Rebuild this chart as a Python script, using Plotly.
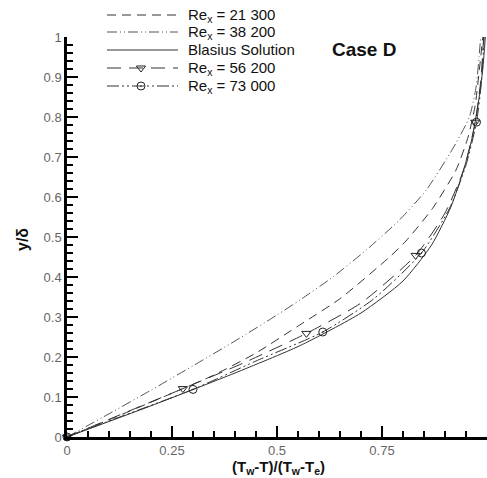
import plotly.graph_objects as go

# ---- data ----
x_21300 = [0, 0.1, 0.229, 0.35, 0.45, 0.554, 0.649, 0.768, 0.807, 0.87, 0.926, 0.955, 0.972, 0.982, 0.99]
y_21300 = [0, 0.043, 0.1, 0.155, 0.21, 0.28, 0.345, 0.45, 0.49, 0.571, 0.667, 0.75, 0.83, 0.92, 1.0]

x_38200 = [0, 0.1, 0.2, 0.3, 0.4, 0.5, 0.554, 0.633, 0.712, 0.791, 0.855, 0.918, 0.958, 0.974, 0.981, 0.985]
y_38200 = [0, 0.058, 0.117, 0.178, 0.24, 0.305, 0.342, 0.40, 0.467, 0.542, 0.617, 0.72, 0.80, 0.875, 0.95, 1.0]

x_blasius = [0, 0.2, 0.4, 0.554, 0.7, 0.8, 0.868, 0.914, 0.945, 0.965, 0.98, 0.99, 0.996]
y_blasius = [0, 0.078, 0.16, 0.228, 0.31, 0.39, 0.48, 0.575, 0.67, 0.75, 0.84, 0.92, 1.0]

x_56200 = [0, 0.1, 0.276, 0.42, 0.57, 0.7, 0.83, 0.9, 0.945, 0.972, 0.985, 0.992]
y_56200 = [0, 0.044, 0.121, 0.185, 0.259, 0.335, 0.454, 0.56, 0.67, 0.787, 0.89, 1.0]
mk_56200 = [0, 2, 4, 6, 9]

x_73000 = [0, 0.1, 0.30, 0.45, 0.609, 0.73, 0.844, 0.91, 0.95, 0.975, 0.987, 0.993]
y_73000 = [0, 0.04, 0.119, 0.19, 0.2625, 0.345, 0.46, 0.57, 0.68, 0.787, 0.89, 1.0]
mk_73000 = [0, 2, 4, 6, 9]

legend_labels = ["Re<sub>x</sub> = 21 300", "Re<sub>x</sub> = 38 200", "Blasius Solution",
                 "Re<sub>x</sub> = 56 200", "Re<sub>x</sub> = 73 000"]
x_ticks = [0, 0.25, 0.5, 0.75, 1]
x_ticktext = ["0", "0.25", "0.5", "0.75", "1"]
y_ticks = [0, 0.1, 0.2, 0.3, 0.4, 0.5, 0.6, 0.7, 0.8, 0.9, 1]
y_ticktext = ["0", "0.1", "0.2", "0.3", "0.4", "0.5", "0.6", "0.7", "0.8", "0.9", "1"]

# ---- styles ----
W, H = 487, 478
ML, MR, MT, MB = 67, 0, 37, 41
LC = "#333333"
dash_long = "9px,6px"
dash_dd = "12px,3px,2px,3px,2px,3px"
dash_dd_light = "10px,3px,1px,3px,1px,3px"
styles = [
    dict(color=LC, width=1, dash=dash_long),
    dict(color="#555555", width=1, dash=dash_dd_light),
    dict(color=LC, width=1, dash="solid"),
    dict(color=LC, width=1, dash="14px,8px"),
    dict(color=LC, width=1, dash=dash_dd),
]

fig = go.Figure()
series = [(x_21300, y_21300), (x_38200, y_38200), (x_blasius, y_blasius),
          (x_56200, y_56200), (x_73000, y_73000)]
for (xs, ys), st in zip(series, styles):
    fig.add_trace(go.Scatter(x=xs, y=ys, mode="lines", line=dict(st, shape="spline", smoothing=0.6),
                             showlegend=False, hoverinfo="skip"))

fig.add_trace(go.Scatter(x=[x_56200[i] for i in mk_56200], y=[y_56200[i] for i in mk_56200],
                         mode="markers", showlegend=False, hoverinfo="skip", cliponaxis=False,
                         marker=dict(symbol="triangle-down-open", size=8, color="#222",
                                     line=dict(width=1))))
fig.add_trace(go.Scatter(x=[x_73000[i] for i in mk_73000], y=[y_73000[i] for i in mk_73000],
                         mode="markers", showlegend=False, hoverinfo="skip", cliponaxis=False,
                         marker=dict(symbol="circle-open-dot", size=8, color="#222",
                                     line=dict(width=1))))

# ---- hand-made legend ----
pw = W - ML - MR
ph = H - MT - MB
def px2paper_x(px):
    return (px - ML) / pw
def py2paper_y(py):
    return (H - MB - py) / ph

rows_y = [15, 32, 50, 68, 86]
lx0, lx1, ltext = 107, 178, 186
shapes = []
annotations = []
for ry, st, lab in zip(rows_y, styles, legend_labels):
    shapes.append(dict(type="line", xref="paper", yref="paper",
                       x0=px2paper_x(lx0), x1=px2paper_x(lx1),
                       y0=py2paper_y(ry), y1=py2paper_y(ry),
                       line=dict(color=st["color"], width=1, dash=st["dash"])))
    annotations.append(dict(xref="paper", yref="paper", x=px2paper_x(ltext), y=py2paper_y(ry),
                            text=lab, showarrow=False, xanchor="left", yanchor="middle",
                            font=dict(family="Liberation Sans, Arial", size=15, color="#111")))

# legend markers (in data coordinates, rows inside plot area)
lm_x = (141 - ML) / pw
fig.add_trace(go.Scatter(x=[lm_x], y=[py2paper_y(rows_y[3])], mode="markers", showlegend=False,
                         hoverinfo="skip", cliponaxis=False,
                         marker=dict(symbol="triangle-down-open", size=8, color="#222", line=dict(width=1))))
fig.add_trace(go.Scatter(x=[lm_x], y=[py2paper_y(rows_y[4])], mode="markers", showlegend=False,
                         hoverinfo="skip", cliponaxis=False,
                         marker=dict(symbol="circle-open-dot", size=8, color="#222", line=dict(width=1))))

annotations.append(dict(xref="paper", yref="paper", x=px2paper_x(330), y=py2paper_y(49),
                        text="<b>Case D</b>", showarrow=False, xanchor="left", yanchor="middle",
                        font=dict(family="Liberation Sans, Arial", size=19, color="#111")))
# axis titles
annotations.append(dict(xref="paper", yref="paper", x=px2paper_x(278), y=py2paper_y(467),
                        text="<b>(T<sub>w</sub>-T)/(T<sub>w</sub>-T<sub>e</sub>)</b>", showarrow=False,
                        xanchor="center", yanchor="middle",
                        font=dict(family="Liberation Sans, Arial", size=15, color="#111")))
annotations.append(dict(xref="paper", yref="paper", x=px2paper_x(22), y=py2paper_y(240),
                        text="<b>y/δ</b>", showarrow=False, textangle=-90,
                        xanchor="center", yanchor="middle",
                        font=dict(family="Liberation Sans, Arial", size=16, color="#111")))

tickfont = dict(family="Liberation Sans, Arial", size=13, color="#666666")
fig.update_layout(
    width=W, height=H,
    margin=dict(l=ML, r=MR, t=MT, b=MB),
    paper_bgcolor="white", plot_bgcolor="white",
    shapes=shapes, annotations=annotations,
    xaxis=dict(range=[0, 1], tickmode="array", tickvals=x_ticks, ticktext=x_ticktext,
               showline=True, linecolor="black", linewidth=2.5, ticks="inside",
               ticklen=11, tickwidth=2, tickcolor="black", showgrid=False, zeroline=False,
               tickfont=tickfont, ticklabelstandoff=0,
               minor=dict(ticks="inside", dtick=0.05, ticklen=6, tickwidth=1.5, tickcolor="black",
                          showgrid=False)),
    yaxis=dict(range=[0, 1], tickmode="array", tickvals=y_ticks, ticktext=y_ticktext,
               showline=True, linecolor="black", linewidth=2.5, ticks="inside",
               ticklen=11, tickwidth=2, tickcolor="black", showgrid=False, zeroline=False,
               tickfont=tickfont,
               minor=dict(ticks="inside", dtick=0.02, ticklen=6, tickwidth=1.5, tickcolor="black",
                          showgrid=False)),
    hovermode=False,
)

fig.write_html("out.html", config={"displayModeBar": False})
